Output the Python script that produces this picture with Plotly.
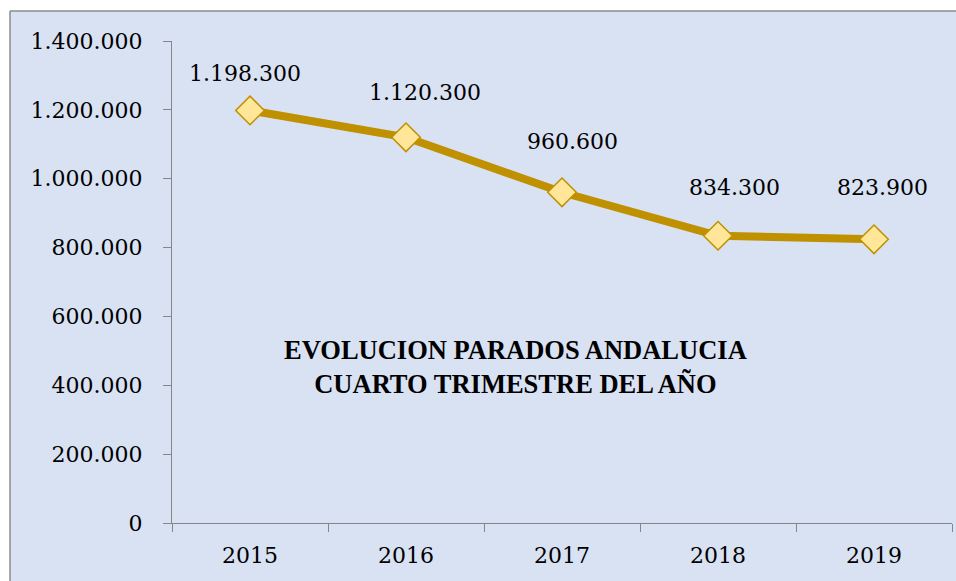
import plotly.graph_objects as go

years = ["2015", "2016", "2017", "2018", "2019"]
parados = [1198300, 1120300, 960600, 834300, 823900]
y_ticks = [0, 200000, 400000, 600000, 800000, 1000000, 1200000, 1400000]
y_tick_labels = ["0", "200.000", "400.000", "600.000", "800.000", "1.000.000", "1.200.000", "1.400.000"]
title_text = "<b>EVOLUCION PARADOS ANDALUCIA<br>CUARTO TRIMESTRE DEL AÑO</b>"

# label offsets (pixels) as placed in the original
label_dx = [-5, 19, 10, 16, 8]
label_dy = [37, 45, 51, 48, 52]


def fmt(v):
    return f"{v:,}".replace(",", ".")


W, H = 956, 581
L, R, T, B = 172, 4, 41, 58
pw, ph = W - L - R, H - T - B


def px_x(p):
    return (p - L) / pw


def px_y(p):
    return (H - B - p) / ph


FILL = "#D9E2F3"
FONT = "DejaVu Serif"
fig = go.Figure()
fig.add_trace(go.Scatter(
    x=years, y=parados, mode="lines+markers",
    line=dict(color="#BF9000", width=8),
    marker=dict(symbol="diamond", size=22, color="#FFE699",
                line=dict(color="#BF9000", width=1.5)),
    hoverinfo="skip", showlegend=False,
))

for i, v in enumerate(parados):
    fig.add_annotation(x=i, y=v, xref="x", yref="y", text=fmt(v), showarrow=False,
                       xshift=label_dx[i], yshift=label_dy[i],
                       font=dict(family=FONT, size=22, color="#000000"))

fig.add_annotation(xref="paper", yref="paper", x=px_x(515), y=px_y(367),
                   text=title_text, showarrow=False,
                   font=dict(family="Liberation Serif", size=26.5, color="#000000"),
                   xanchor="center", yanchor="middle")

# white strips above and left of the chart frame, then the frame lines
fig.add_shape(type="rect", xref="paper", yref="paper",
              x0=px_x(-50), x1=px_x(1100), y0=px_y(11), y1=px_y(-50),
              line=dict(width=0), fillcolor="white", layer="below")
fig.add_shape(type="rect", xref="paper", yref="paper",
              x0=px_x(-50), x1=px_x(10), y0=px_y(700), y1=px_y(-50),
              line=dict(width=0), fillcolor="white", layer="below")
fig.add_shape(type="line", xref="paper", yref="paper",
              x0=px_x(10), x1=px_x(1100), y0=px_y(11), y1=px_y(11),
              line=dict(color="#8C8C8C", width=1.5), layer="below")
fig.add_shape(type="line", xref="paper", yref="paper",
              x0=px_x(10), x1=px_x(10), y0=px_y(700), y1=px_y(11),
              line=dict(color="#8C8C8C", width=1.5), layer="below")

fig.update_layout(
    width=W, height=H,
    margin=dict(l=L, r=R, t=T, b=B),
    paper_bgcolor=FILL, plot_bgcolor="rgba(0,0,0,0)",
    font=dict(family=FONT, size=22, color="#000000"),
)
fig.update_xaxes(type="category", range=[-0.5, 4.5], showgrid=False,
                 showline=True, linecolor="#868686", linewidth=1.3,
                 ticks="outside", ticklen=8, tickcolor="#868686", tickwidth=1.3,
                 tickson="boundaries", ticklabelstandoff=12,
                 tickfont=dict(family=FONT, size=22, color="#000000"))
fig.update_yaxes(range=[0, 1400000], showgrid=False, zeroline=False,
                 showline=True, linecolor="#868686", linewidth=1.3,
                 ticks="outside", ticklen=8, tickcolor="#868686", tickwidth=1.3,
                 tickvals=y_ticks, ticktext=y_tick_labels, ticklabelstandoff=16,
                 tickfont=dict(family=FONT, size=22, color="#000000"))

fig.write_html("out.html",
               config={"displayModeBar": False},
               post_script="document.body.style.margin='0';"
                           "document.body.style.overflow='hidden';")
